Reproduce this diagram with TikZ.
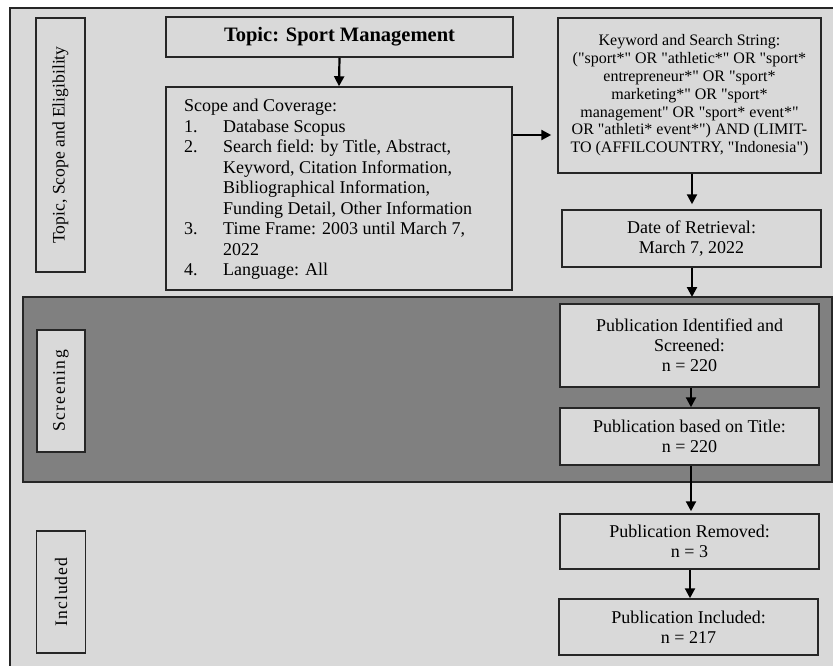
\documentclass[tikz,border=0pt]{standalone}
\usepackage{fontspec}
\setmainfont{Liberation Serif}[Ligatures=TeXOff]
\usetikzlibrary{arrows.meta,calc}
\definecolor{lightg}{HTML}{D9D9D9}
\definecolor{darkg}{HTML}{808080}
\definecolor{edge}{HTML}{262626}
\tikzset{
  stepbox/.style={draw=edge, line width=1.5pt, fill=lightg, inner sep=0pt, align=center},
  labelbox/.style={draw=edge, line width=1.5pt, fill=lightg, inner sep=0pt},
  arr/.style={-{Triangle[length=10pt,width=10pt]}, line width=2.2pt, black},
  vlabel/.style={rotate=90, inner sep=0pt, font=\fontsize{17.6}{20}\selectfont},
}
\newcommand{\itemno}[1]{\makebox[39pt][l]{#1}}
\begin{document}
\begin{tikzpicture}[x=1pt,y=-1pt]
\useasboundingbox (0,0) rectangle (833,666);
\clip (0,0) rectangle (833,666);
\fill[white] (0,0) rectangle (833,666);
% outer frame
\draw[draw=edge, line width=1.5pt, fill=lightg] (10,8) rectangle (850,690);
% screening band
\draw[draw=edge, line width=1.8pt, fill=darkg] (23,297) rectangle (832,482);
\coordinate (scrtop) at (692,297);

% side labels
\node[labelbox, minimum width=49pt, minimum height=254pt] (lab1) at (60.5,145) {};
\node[vlabel] (lab1t) at (lab1.center) {Topic, Scope and Eligibility};
\node[labelbox, minimum width=48pt, minimum height=122pt] (lab2) at (61,391) {};
\node[vlabel, font=\fontsize{17.6}{20}\selectfont\addfontfeatures{LetterSpace=8}] (lab2t) at (lab2.center) {Screening};
\node[labelbox, minimum width=49pt, minimum height=122pt] (lab3) at (61,592) {};
\node[vlabel, font=\fontsize{17.6}{20}\selectfont\addfontfeatures{LetterSpace=6}] (lab3t) at (lab3.center) {Included};

% topic
\node[stepbox, minimum width=347pt, minimum height=40pt, font=\fontsize{20.5}{22}\selectfont\bfseries] (topic) at (339.5,37) {Topic: Sport Management};

% scope
\node[stepbox, minimum width=346pt, minimum height=203pt] (scope) at (339,188.5) {};
\node[anchor=north west, inner sep=0pt, align=left, font=\fontsize{18}{20.5}\selectfont] (scopet) at (184,99) {%
Scope and Coverage:\\
\itemno{1.}Database Scopus\\
\itemno{2.}Search field: by Title, Abstract,\\
\hspace*{39pt}Keyword, Citation Information,\\
\hspace*{39pt}Bibliographical Information,\\
\hspace*{39pt}Funding Detail, Other Information\\
\itemno{3.}Time Frame: 2003 until March 7,\\
\hspace*{39pt}2022\\
\itemno{4.}Language: All};

% keyword
\node[stepbox, minimum width=263pt, minimum height=155pt, font=\fontsize{16}{17.8}\selectfont] (kw) at (689.5,95.5) {%
Keyword and Search String:\\
("sport*" OR "athletic*" OR "sport*\\
entrepreneur*" OR "sport*\\
marketing*" OR "sport*\\
management" OR "sport* event*"\\
OR "athleti* event*") AND (LIMIT-\\
TO (AFFILCOUNTRY, "Indonesia")};

% date
\node[stepbox, minimum width=259pt, minimum height=57pt, font=\fontsize{18}{20.7}\selectfont] (date) at (691.5,238.5) {Date of Retrieval:\\March 7, 2022};

% publications
\node[stepbox, minimum width=259pt, minimum height=83pt, font=\fontsize{18}{20}\selectfont] (pid) at (689.5,345.5) {Publication Identified and\\Screened:\\n = 220};
\node[stepbox, minimum width=259pt, minimum height=57pt, font=\fontsize{18}{20}\selectfont] (ptitle) at (689.5,436.5) {Publication based on Title:\\n = 220};
\node[stepbox, minimum width=259pt, minimum height=55pt, font=\fontsize{18}{20}\selectfont] (prem) at (689.5,541.5) {Publication Removed:\\n = 3};
\node[stepbox, minimum width=259pt, minimum height=56pt, font=\fontsize{18}{20}\selectfont] (pinc) at (688.5,627) {Publication Included:\\n = 217};

% arrows
\draw[arr] (topic.south) -- (scope.north);
\draw[arr] (scope.east |- 0,135) -- ($(kw.west |- 0,135)+(-6,0)$);
\draw[arr] (kw.south -| 692,0) -- ($(date.north -| 692,0)+(0,-5)$);
\draw[arr] (date.south -| 692,0) -- (scrtop);
\draw[arr] (pid.south -| 691,0) -- (ptitle.north -| 691,0);
\draw[arr] (ptitle.south -| 691,0) -- ($(prem.north -| 691,0)+(0,-2)$);
\draw[arr] (prem.south -| 690,0) -- (pinc.north -| 690,0);
\end{tikzpicture}
\end{document}
